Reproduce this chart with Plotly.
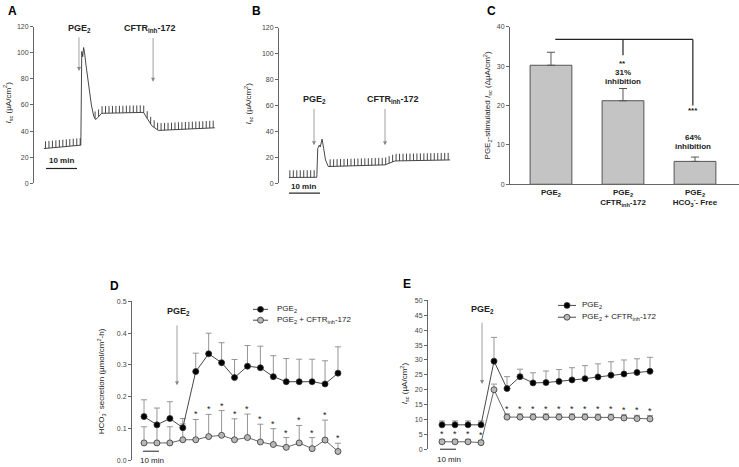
import numpy as np
import plotly.graph_objects as go

W, H = 739, 467
FONT = "Arial, Liberation Sans, sans-serif"
AX = "#666666"
TXT = "#222222"

# ---- A: Isc trace, key points (min, uA/cm2)
a_time = [3.2, 15.1, 15.4, 15.7, 16.0, 16.3, 16.8, 17.6, 18.5, 19.3, 19.9, 20.6, 21.8, 35.3, 36.3, 38.0, 40.1, 58.3]
a_isc = [26.6, 29.2, 101, 97, 104, 100, 90, 75, 60, 51, 48.8, 50.5, 53.6, 54.3, 50.5, 44.0, 40.5, 42.5]
a_pulse_spans = [(3.7, 15.0), (19.7, 58.0)]

# ---- B: Isc trace, key points
b_time = [3.2, 12.2, 12.5, 13.0, 13.3, 13.9, 14.4, 15.0, 15.9, 34.2, 37.4, 55.2]
b_isc = [4.5, 4.6, 26.8, 29.4, 28.0, 34.0, 27.0, 18.0, 12.9, 14.2, 17.2, 18.0]
b_pulse_spans = [(3.5, 12.0), (16.5, 55.0)]

pulse_step = 1.12    # min between voltage pulses
pulse_height = 5.5   # uA/cm2

# ---- C: PGE2-stimulated Isc
c_labels = ["<b>PGE<sub>2</sub></b>",
            "<b>PGE<sub>2</sub><br>CFTR<sub>inh</sub>-172</b>",
            "<b>PGE<sub>2</sub><br>HCO<sub>3</sub><sup>-</sup>- Free</b>"]
c_mean = [30.2, 21.2, 5.8]
c_sem = [3.3, 3.1, 1.1]

# ---- D: HCO3- secretion
d_pge2 = [0.137, 0.111, 0.131, 0.102, 0.279, 0.335, 0.307, 0.260, 0.296, 0.291, 0.263, 0.247, 0.247, 0.247, 0.240, 0.274]
d_pge2_sem = [0.053, 0.053, 0.053, 0.029, 0.058, 0.065, 0.063, 0.057, 0.065, 0.068, 0.066, 0.073, 0.071, 0.071, 0.073, 0.083]
d_inh = [0.054, 0.054, 0.054, 0.064, 0.064, 0.074, 0.078, 0.064, 0.071, 0.057, 0.049, 0.040, 0.054, 0.036, 0.063, 0.027]
d_inh_sem = [0.051, 0.051, 0.051, 0.050, 0.064, 0.070, 0.078, 0.066, 0.074, 0.056, 0.050, 0.031, 0.055, 0.035, 0.063, 0.026]
d_star = [False] * 4 + [True] * 12

# ---- E: Isc
e_pge2 = [8.2, 8.2, 8.2, 8.2, 29.6, 20.4, 24.4, 22.3, 22.4, 22.8, 23.3, 23.7, 24.3, 24.9, 25.3, 25.8, 26.2]
e_pge2_sem = [1.3, 1.3, 1.3, 1.3, 8.0, 4.0, 2.5, 3.4, 3.9, 4.0, 4.1, 4.4, 4.4, 4.5, 4.7, 4.6, 4.7]
e_inh = [2.5, 2.5, 2.5, 2.2, 20.0, 10.8, 10.8, 10.8, 10.8, 10.8, 10.8, 10.8, 10.7, 10.7, 10.5, 10.3, 10.2]
e_inh_sem = [0.8, 0.8, 0.8, 0.8, 1.9, 1.1, 1.1, 1.1, 1.1, 1.1, 1.1, 1.1, 1.1, 1.1, 1.1, 1.1, 1.1]
e_star = [True] * 4 + [False] + [True] * 12


def px(x):
    return x / W


def py(y):
    return 1 - y / H


def pulses(time, isc, spans):
    xs, ys = [], []
    for t0, t1 in spans:
        for t in np.arange(t0, t1, pulse_step):
            base = float(np.interp(t, time, isc))
            xs += [t, t, None]
            ys += [base, base + pulse_height, None]
    return xs, ys


fig = go.Figure()
trace_line = dict(color="#333333", width=0.9)

# A
fig.add_trace(go.Scatter(x=a_time, y=a_isc, mode="lines", line=trace_line, xaxis="x", yaxis="y"))
ax_, ay_ = pulses(a_time, a_isc, a_pulse_spans)
fig.add_trace(go.Scatter(x=ax_, y=ay_, mode="lines", line=trace_line, xaxis="x", yaxis="y"))
# B
fig.add_trace(go.Scatter(x=b_time, y=b_isc, mode="lines", line=trace_line, xaxis="x2", yaxis="y2"))
bx_, by_ = pulses(b_time, b_isc, b_pulse_spans)
fig.add_trace(go.Scatter(x=bx_, y=by_, mode="lines", line=trace_line, xaxis="x2", yaxis="y2"))
# C
fig.add_trace(go.Bar(x=[0, 1, 2], y=c_mean, width=0.58, xaxis="x3", yaxis="y3",
                     marker=dict(color="#c4c4c4", line=dict(color="#555555", width=1)),
                     error_y=dict(type="data", array=c_sem, arrayminus=[0, 0, 0], symmetric=False,
                                  color="#555555", thickness=1, width=4)))


def series(x, y, sem, xa, ya, fill, lcol):
    return go.Scatter(x=x, y=y, mode="lines+markers", xaxis=xa, yaxis=ya,
                      line=dict(color=lcol, width=0.9),
                      marker=dict(size=6, color=fill, line=dict(color="#333333", width=0.8)),
                      error_y=dict(type="data", array=sem, arrayminus=[0] * len(sem), symmetric=False,
                                   color="#8a8a8a", thickness=0.9, width=3))


d_x = list(range(len(d_pge2)))
e_x = list(range(len(e_pge2)))
fig.add_trace(series(d_x, d_inh, d_inh_sem, "x4", "y4", "#b8b8b8", "#555555"))
fig.add_trace(series(d_x, d_pge2, d_pge2_sem, "x4", "y4", "#000000", "#333333"))
fig.add_trace(series(e_x, e_inh, e_inh_sem, "x5", "y5", "#b8b8b8", "#555555"))
fig.add_trace(series(e_x, e_pge2, e_pge2_sem, "x5", "y5", "#000000", "#333333"))

ann = []
shapes = []


def text(x, y, s, size=8, bold=False, xref="paper", yref="paper", angle=0, xanchor="center", color=TXT):
    ann.append(dict(x=x, y=y, xref=xref, yref=yref, text=f"<b>{s}</b>" if bold else s,
                    showarrow=False, textangle=angle, xanchor=xanchor, yanchor="middle",
                    font=dict(family=FONT, size=size, color=color)))


def arrow(x, y0, y1, xa, ya):
    ann.append(dict(x=x, y=y1, ax=x, ay=y0, xref=xa, yref=ya, axref=xa, ayref=ya, text="",
                    showarrow=True, arrowhead=2, arrowsize=1, arrowwidth=0.8, arrowcolor="#888888"))


def hline(x0, x1, y, width=1.2):
    shapes.append(dict(type="line", xref="paper", yref="paper", x0=px(x0), x1=px(x1), y0=py(y), y1=py(y),
                       line=dict(color="#222222", width=width)))


# panel letters
for L, (lx, ly) in {"A": (12, 7), "B": (256, 7), "C": (491, 7), "D": (114, 286), "E": (407, 284)}.items():
    text(px(lx), py(ly), L, size=12, bold=True, color="#000000")

# y titles
text(px(8), py(100), "<i>I</i><sub>sc</sub> (µA/cm<sup>2</sup>)", size=8, angle=-90)
text(px(248), py(101), "<i>I</i><sub>sc</sub> (µA/cm<sup>2</sup>)", size=8, angle=-90)
text(px(487), py(103), "PGE<sub>2</sub>-stimulated <i>I</i><sub>sc</sub> (ΔµA/cm<sup>2</sup>)", size=8, angle=-90)
text(px(101), py(383), "HCO<sub>3</sub><sup>-</sup> secretion (µmol/cm<sup>2</sup>-h)", size=8, angle=-90)
text(px(404), py(385), "<i>I</i><sub>sc</sub> (µA/cm<sup>2</sup>)", size=8, angle=-90)

# A annotations
text(14.8, 118.5, "PGE<sub>2</sub>", size=9, bold=True, xref="x", yref="y")
arrow(14.5, 113, 86, "x", "y")
text(37.4, 118.5, "CFTR<sub>inh</sub>-172", size=9, bold=True, xref="x", yref="y")
arrow(38.4, 112.5, 77.7, "x", "y")
text(px(61), py(159), "10 min", size=8, bold=True)
hline(46, 77, 167)

# B annotations
text(11.6, 64.5, "PGE<sub>2</sub>", size=9, bold=True, xref="x2", yref="y2")
arrow(11.3, 58.5, 29.4, "x2", "y2")
text(36.6, 64.5, "CFTR<sub>inh</sub>-172", size=9, bold=True, xref="x2", yref="y2")
arrow(34.2, 58.5, 29.4, "x2", "y2")
text(px(303), py(185), "10 min", size=8, bold=True)
hline(289, 320, 192)

# C bracket and labels
for x0, y0, x1, y1 in [(0.06, 36.75, 1.97, 36.75), (1.0, 36.75, 1.0, 32.75), (1.97, 36.75, 1.97, 20.0)]:
    shapes.append(dict(type="line", xref="x3", yref="y3", x0=x0, y0=y0, x1=x1, y1=y1,
                       line=dict(color="#222222", width=1.2)))
text(1.0, 30.6, "**", size=8, bold=True, xref="x3", yref="y3")
text(1.0, 28.25, "31%", size=8, bold=True, xref="x3", yref="y3")
text(1.0, 26.2, "inhibition", size=8, bold=True, xref="x3", yref="y3")
text(1.97, 18.6, "***", size=8, bold=True, xref="x3", yref="y3")
text(1.97, 11.75, "64%", size=8, bold=True, xref="x3", yref="y3")
text(1.97, 9.5, "inhibition", size=8, bold=True, xref="x3", yref="y3")

# D annotations
text(2.63, 0.469, "PGE<sub>2</sub>", size=9, bold=True, xref="x4", yref="y4")
arrow(2.55, 0.429, 0.236, "x4", "y4")
for i, s in enumerate(d_star):
    if s:
        ann.append(dict(x=i, y=d_inh[i] + d_inh_sem[i], xref="x4", yref="y4", text="*", showarrow=False,
                        yshift=5, font=dict(family=FONT, size=9, color=TXT)))
text(px(151.5), py(463), "10 min", size=8)
hline(143, 159, 454, width=1)

# E annotations
text(3.15, 47, "PGE<sub>2</sub>", size=9, bold=True, xref="x5", yref="y5")
arrow(3.08, 43, 21.9, "x5", "y5")
for i, s in enumerate(e_star):
    if s:
        ann.append(dict(x=i, y=e_inh[i] + e_inh_sem[i], xref="x5", yref="y5", text="*", showarrow=False,
                        yshift=5, font=dict(family=FONT, size=9, color=TXT)))
text(px(449), py(462), "10 min", size=8)
hline(440, 456, 452, width=1)

# legends for D and E
for lx0, lx1, ty, y1, y2 in [(253, 268, 275, 310, 321), (558, 576, 580, 306, 318)]:
    for yy, fill, lab in [(y1, "#000000", "PGE<sub>2</sub>"), (y2, "#b8b8b8", "PGE<sub>2</sub> + CFTR<sub>inh</sub>-172")]:
        shapes.append(dict(type="line", xref="paper", yref="paper", x0=px(lx0), x1=px(lx1), y0=py(yy), y1=py(yy),
                           line=dict(color="#333333", width=0.9)))
        cx = (lx0 + lx1) / 2
        shapes.append(dict(type="circle", xref="paper", yref="paper", x0=px(cx - 3), x1=px(cx + 3),
                           y0=py(yy + 3), y1=py(yy - 3), fillcolor=fill, line=dict(color="#333333", width=0.8)))
        text(px(ty), py(yy), lab, size=8, xanchor="left")

yax = dict(showline=True, linecolor=AX, linewidth=1, ticks="outside", ticklen=3, tickcolor=AX,
           showgrid=False, zeroline=False, tickfont=dict(family=FONT, size=7, color="#444444"))
hidden = dict(visible=False, showgrid=False, zeroline=False)

fig.update_layout(
    width=W, height=H, margin=dict(l=0, r=0, t=0, b=0),
    paper_bgcolor="white", plot_bgcolor="white", showlegend=False,
    font=dict(family=FONT),
    xaxis=dict(hidden, domain=[px(34), px(230)], range=[0, 63.2]),
    yaxis=dict(yax, domain=[py(182), py(23)], range=[0, 120], dtick=20, anchor="x"),
    xaxis2=dict(hidden, domain=[px(279), px(460)], range=[0, 58.4]),
    yaxis2=dict(yax, domain=[py(182), py(24)], range=[0, 120], dtick=20, anchor="x2"),
    xaxis3=dict(domain=[px(510), px(739)], range=[-0.569, 2.611], showline=True, linecolor=AX, linewidth=1,
                ticks="", showgrid=False, zeroline=False, tickvals=[0, 1, 2], ticktext=c_labels,
                tickfont=dict(family=FONT, size=8, color=TXT), anchor="y3"),
    yaxis3=dict(yax, domain=[py(183), py(23)], range=[0, 40], dtick=10, anchor="x3"),
    xaxis4=dict(hidden, domain=[px(132), px(350)], range=[-0.93, 15.93], anchor="y4"),
    yaxis4=dict(yax, domain=[py(463), py(302)], range=[0, 0.5], dtick=0.1, tickformat=".1f", anchor="x4"),
    xaxis5=dict(hidden, domain=[px(428), px(660)], range=[-1.077, 16.77], anchor="y5"),
    yaxis5=dict(yax, domain=[py(452), py(301)], range=[0, 50], dtick=5, anchor="x5"),
    annotations=ann, shapes=shapes,
)

# page has a default body margin; drop it so the figure sits at the window's corner
fig.write_html("out.html", config={"displayModeBar": False},
               post_script="document.body.style.margin='0';")
